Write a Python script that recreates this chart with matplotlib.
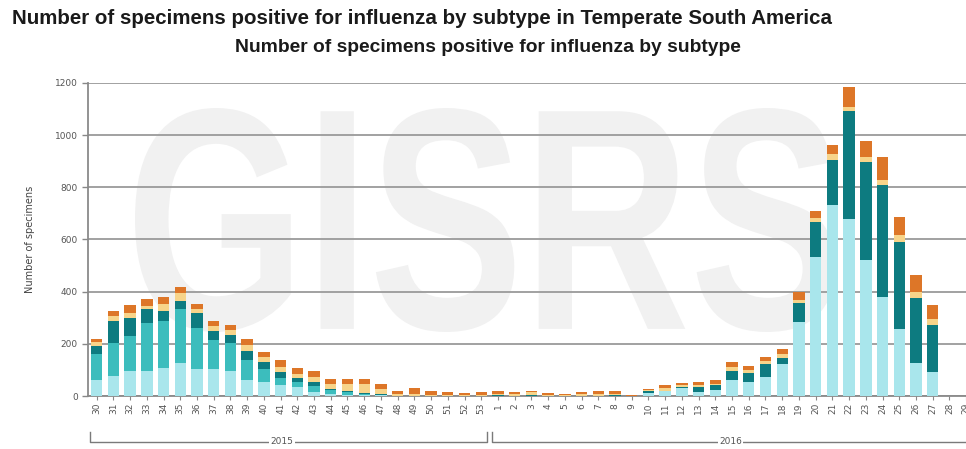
import matplotlib
matplotlib.use("Agg")
import matplotlib.pyplot as plt
import matplotlib.transforms as mtransforms
from matplotlib.textpath import TextPath
from matplotlib.patches import PathPatch
from matplotlib.font_manager import FontProperties
import numpy as np

# ---- data ----
weeks_2015 = [str(w) for w in range(30, 54)]
weeks_2016 = [str(w) for w in range(1, 30)]
week_labels = weeks_2015 + weeks_2016
years = ["2015", "2016"]

# bottom -> top stacking order
light_cyan = [61, 77, 97, 97, 107, 128, 102, 102, 97, 61, 55, 42, 36, 15, 8, 5, 3, 2, 0, 0, 0, 0, 0, 0,
              0, 0, 0, 0, 0, 0, 0, 0, 0, 12, 18, 30, 17, 22, 61, 55, 74, 123, 285, 534, 732, 679, 521, 378, 256, 128, 93, 0, 0]
turquoise = [100, 125, 133, 184, 179, 204, 157, 113, 107, 77, 47, 26, 19, 25, 14, 10, 6, 3, 1, 1, 0, 0, 0, 0,
             0, 0, 0, 0, 0, 0, 0, 0, 0, 0, 0, 0, 0, 0, 0, 0, 0, 0, 0, 0, 0, 0, 0, 0, 0, 0, 0, 0, 0]
dark_teal = [31, 87, 68, 51, 41, 33, 58, 35, 30, 36, 29, 25, 13, 12, 3, 3, 2, 1, 0, 0, 0, 0, 0, 0,
             2, 1, 2, 1, 0, 1, 1, 2, 0, 6, 3, 3, 18, 20, 36, 32, 49, 21, 70, 135, 173, 414, 377, 431, 335, 246, 179, 0, 0]
pale_yellow = [15, 18, 19, 13, 26, 29, 15, 18, 19, 22, 17, 17, 16, 22, 22, 28, 35, 22, 6, 8, 5, 4, 3, 4,
               5, 5, 12, 4, 3, 6, 7, 7, 1, 4, 10, 8, 8, 5, 15, 13, 12, 17, 13, 15, 21, 16, 17, 19, 26, 26, 22, 0, 0]
orange = [11, 20, 31, 28, 25, 25, 21, 21, 19, 21, 22, 28, 22, 23, 17, 18, 18, 18, 13, 20, 15, 10, 7, 10,
          12, 10, 5, 7, 6, 8, 10, 10, 2, 4, 11, 10, 12, 14, 17, 15, 13, 18, 32, 25, 36, 77, 64, 87, 70, 64, 55, 0, 0]

series = [light_cyan, turquoise, dark_teal, pale_yellow, orange]
colors = ["#a9e6ec", "#3cbdbd", "#0d7b80", "#f7d48a", "#dd7628"]

W, H = 966, 449
fig = plt.figure(figsize=(W / 100, H / 100), dpi=100)
fig.patch.set_facecolor("white")

x = np.arange(len(week_labels))
left_px, right_px = 88.3, 974.5
bot_px, top_px = 396, 83
ax = fig.add_axes([left_px / W, (H - bot_px) / H, (right_px - left_px) / W, (bot_px - top_px) / H])
ax.set_facecolor("none")

# watermark (drawn behind everything, squeezed into its box)
tp = TextPath((0, 0), "GISRS", size=1, prop=FontProperties(family="Liberation Sans", weight="bold"))
ext = tp.get_extents()
bx0, bx1, by_top, by_bot = 135, 835, 108, 332
sx = (bx1 - bx0) / ext.width
sy = (by_bot - by_top) / ext.height
wm_tr = (mtransforms.Affine2D().translate(-ext.x0, -ext.y0).scale(sx, sy)
         .translate(bx0, H - by_bot) + fig.dpi_scale_trans.inverted() + fig.dpi_scale_trans
         if False else
         mtransforms.Affine2D().translate(-ext.x0, -ext.y0).scale(sx / 100.0, sy / 100.0)
         .translate(bx0 / 100.0, (H - by_bot) / 100.0) + fig.dpi_scale_trans)
wm = PathPatch(tp, facecolor="#f1f1f1", edgecolor="none", transform=wm_tr, zorder=0.2)
ax.add_artist(wm)
wm.set_clip_on(False)

bottom = np.zeros(len(x))
for vals, c in zip(series, colors):
    v = np.array(vals, dtype=float)
    ax.bar(x, v, bottom=bottom, width=0.68, color=c, edgecolor="none", zorder=3)
    bottom += v

ax.set_xlim(-0.5, len(x) - 0.5)
ax.set_ylim(0, 1200)
ax.set_yticks(np.arange(0, 1201, 200))
ax.yaxis.grid(True, color="#9a9a9a", linewidth=1.3, zorder=1)
ax.set_axisbelow(True)
ax.set_xticks(x)
ax.set_xticklabels(week_labels, rotation=90, fontsize=6.5, color="#555555")
ax.tick_params(axis="y", labelsize=6.5, labelcolor="#555555", color="#888888", length=4, width=1)
ax.tick_params(axis="x", color="#888888", length=3, width=0.8, pad=2)
for s in ["top", "right"]:
    ax.spines[s].set_visible(False)
ax.spines["left"].set_color("#8a8a8a")
ax.spines["left"].set_linewidth(1.3)
ax.spines["bottom"].set_color("#8a8a8a")
ax.spines["bottom"].set_linewidth(1.3)
ax.set_ylabel("Number of specimens", fontsize=7, color="#444444", labelpad=14)

# year brackets
trans = mtransforms.blended_transform_factory(ax.transData, ax.transAxes)
yb = -0.146
yt = -0.115
n15 = len(weeks_2015)
segs = [(-0.4, n15 - 0.66, years[0]), (n15 - 0.35, len(x) + 0.5, years[1])]
for (a, b, lab) in segs:
    ax.plot([a, a, b, b], [yt, yb, yb, yt], transform=trans, color="#7a7a7a",
            linewidth=1.0, clip_on=False)
mid15 = (segs[0][0] + segs[0][1]) / 2
ax.text(mid15 - 0.4, yb, years[0], transform=trans, ha="center", va="center",
        fontsize=6.5, color="#555555", bbox=dict(facecolor="white", edgecolor="none", pad=1))
ax.text(37.9, yb, years[1], transform=trans, ha="center", va="center",
        fontsize=6.5, color="#555555", bbox=dict(facecolor="white", edgecolor="none", pad=1))

# titles
tfam = ["Liberation Sans", "DejaVu Sans"]
fig.text(12 / W, 1 - 19 / H, "Number of specimens positive for influenza by subtype in Temperate South America",
         fontsize=14.8, fontweight="bold", family=tfam, ha="left", va="center", color="#1a1a1a")
fig.text(488 / W, 1 - 47 / H, "Number of specimens positive for influenza by subtype",
         fontsize=13.9, fontweight="bold", family=tfam, ha="center", va="center", color="#1a1a1a")

fig.savefig("out.png", dpi=100, facecolor="white")
